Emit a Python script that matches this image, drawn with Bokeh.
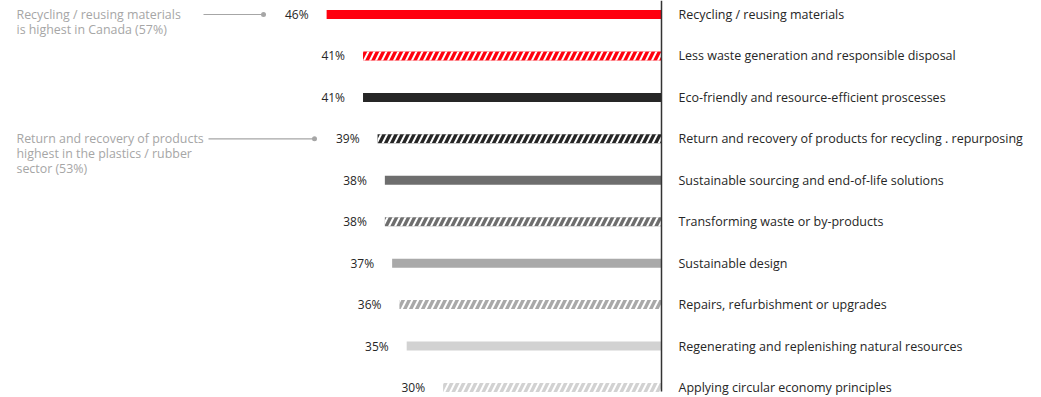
from bokeh.plotting import figure
from bokeh.models import Range1d, ColumnDataSource
from bokeh.core.properties import value
from bokeh.embed import file_html
from bokeh.resources import INLINE

categories = [
    "Recycling / reusing materials",
    "Less waste generation and responsible disposal",
    "Eco-friendly and resource-efficient proscesses",
    "Return and recovery of products for recycling . repurposing",
    "Sustainable sourcing and end-of-life solutions",
    "Transforming waste or by-products",
    "Sustainable design",
    "Repairs, refurbishment or upgrades",
    "Regenerating and replenishing natural resources",
    "Applying circular economy principles",
]
values = [46, 41, 41, 39, 38, 38, 37, 36, 35, 30]
colors = ["#ff000f", "#ff000f", "#262626", "#262626", "#6e6e6e", "#6e6e6e",
          "#a9a9a9", "#a9a9a9", "#d2d2d2", "#d2d2d2"]
hatched = [False, True, False, True, False, True, False, True, False, True]
pct_labels = [f"{v}%" for v in values]

note_rows = [0, 3]
note_texts = [
    ["Recycling / reusing materials", "is highest in Canada (57%)"],
    ["Return and recovery of products", "highest in the plastics / rubber", "sector (53%)"],
]

W, H = 1041, 397
AXIS_PX = 661
SCALE = 7.28  # px per percentage point
ROW0 = 14
ROW_STEP = 41.44


def px(xpix):
    return (AXIS_PX - xpix) / SCALE


y_top = -ROW0 / ROW_STEP
y_bot = (H - ROW0) / ROW_STEP

p = figure(width=W, height=H, output_backend="svg", toolbar_location=None,
           x_range=Range1d(px(0), px(W)), y_range=Range1d(y_bot, y_top),
           min_border=0, outline_line_color=None)
p.axis.visible = False
p.grid.visible = False
p.background_fill_color = "white"
p.border_fill_color = "white"

rows = list(range(len(categories)))
bar_h = 9 / ROW_STEP

solid = [i for i in rows if not hatched[i]]
hat = [i for i in rows if hatched[i]]

src_s = ColumnDataSource(dict(y=[rows[i] for i in solid], right=[values[i] for i in solid],
                              color=[colors[i] for i in solid]))
src_h = ColumnDataSource(dict(y=[rows[i] for i in hat], right=[values[i] for i in hat],
                              color=[colors[i] for i in hat]))

p.hbar(y="y", left=0, right="right", height=bar_h, fill_color="color", line_color=None, source=src_s)
p.hbar(y="y", left=0, right="right", height=bar_h, fill_color="color", line_color=None,
       hatch_pattern="/", hatch_color="white", hatch_weight=2, hatch_scale=12, source=src_h)

# axis line
p.segment(x0=0, y0=y_top, x1=0, y1=(391 - ROW0) / ROW_STEP, line_color="#333333", line_width=1.5)

# percentage labels
src_l = ColumnDataSource(dict(x=[v + 18 / SCALE for v in values], y=rows, t=pct_labels))
p.text(x="x", y="y", text="t", source=src_l, text_align="right", text_baseline="middle",
       text_font=value("Open Sans"), text_font_size="12px", text_color="#262626")

# category labels
src_c = ColumnDataSource(dict(x=[px(678)] * len(categories), y=rows, t=categories))
p.text(x="x", y="y", text="t", source=src_c, text_align="left", text_baseline="middle",
       text_font=value("Open Sans"), text_font_size="12.5px", text_color="#262626")

# notes
line_ends = [(203, 263), (208, 314)]
for r, lines, (x0, x1) in zip(note_rows, note_texts, line_ends):
    ys = [r + k * 15 / ROW_STEP for k in range(len(lines))]
    p.text(x=[px(16)] * len(lines), y=ys, text=lines, text_align="left", text_baseline="middle",
           text_font=value("Open Sans"), text_font_size="12.4px", text_color="#a6a6a6")
    p.segment(x0=px(x0), y0=r, x1=px(x1), y1=r, line_color="#a6a6a6", line_width=1.2)
    p.scatter(x=[px(x1)], y=[r], size=5, fill_color="#a6a6a6", line_color=None)

open("out.html", "w").write(file_html(p, INLINE))
